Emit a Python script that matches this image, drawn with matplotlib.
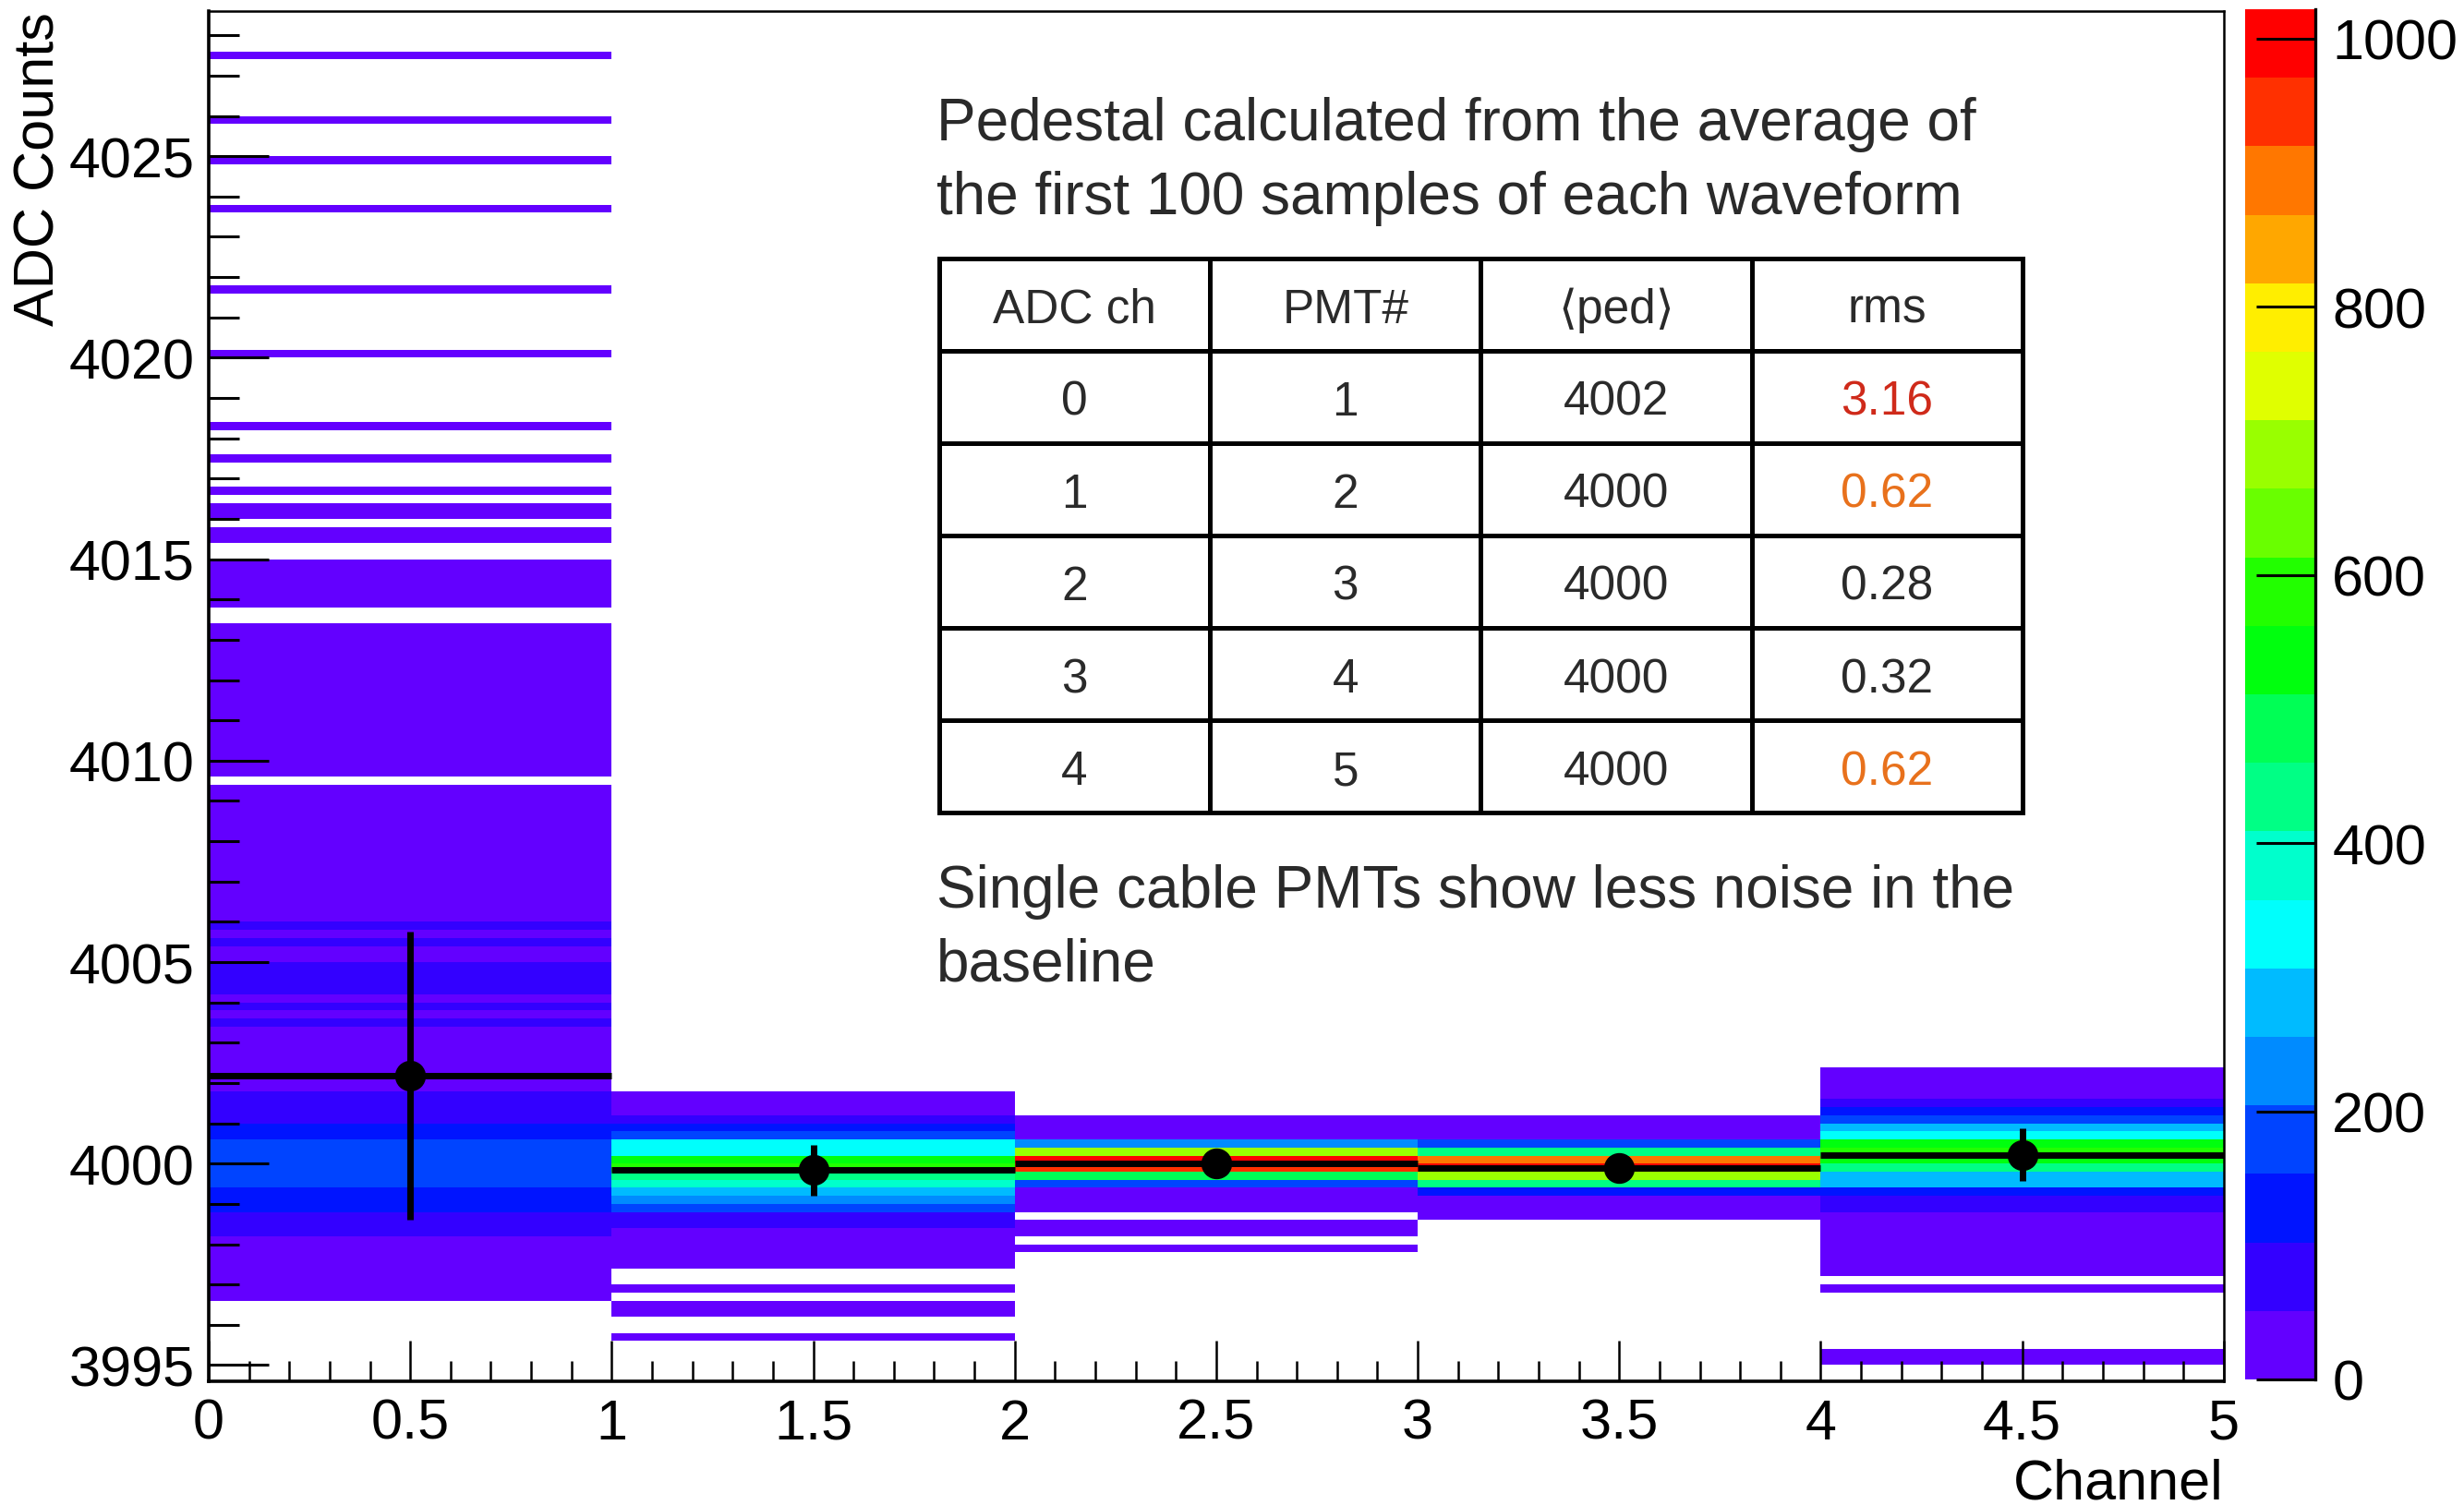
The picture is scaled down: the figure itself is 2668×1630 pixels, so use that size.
import colorsys
import numpy as np
import matplotlib
matplotlib.use('Agg')
import matplotlib.pyplot as plt
from matplotlib.colors import ListedColormap, BoundaryNorm
from matplotlib.ticker import MultipleLocator, FormatStrFormatter

plt.rcParams['font.family'] = ['Liberation Sans', 'DejaVu Sans']

# 2D histogram: x = ADC channel (bins of 1), y = pedestal (bins of 0.2 ADC counts)
y_lo, y_hi, y_bin = 3994.6, 4028.6, 0.2
channels = [0, 1, 2, 3, 4]

# filled y ranges per channel: (low edge, high edge, entries per bin)
ch0_bins = [(3996.6, 3998.2, 25), (3998.2, 3998.8, 75), (3998.8, 3999.4, 128),
            (3999.4, 4000.6, 180), (4000.6, 4001.0, 128), (4001.0, 4001.8, 75),
            (4001.8, 4003.4, 25), (4003.4, 4003.6, 75), (4003.6, 4003.8, 25),
            (4003.8, 4004.0, 75), (4004.0, 4004.2, 25), (4004.2, 4005.0, 75),
            (4005.0, 4005.4, 25), (4005.4, 4005.6, 75), (4005.6, 4005.8, 25),
            (4005.8, 4006.0, 75), (4006.0, 4009.4, 20), (4009.6, 4013.4, 12),
            (4013.8, 4015.0, 6), (4015.4, 4015.8, 3), (4016.0, 4016.4, 2),
            (4016.6, 4016.8, 2), (4017.4, 4017.6, 1), (4018.2, 4018.4, 1),
            (4020.0, 4020.2, 1), (4021.6, 4021.8, 1), (4023.6, 4023.8, 1),
            (4024.8, 4025.0, 1), (4025.8, 4026.0, 1), (4027.4, 4027.6, 1)]
ch1_bins = [(3995.6, 3995.8, 2), (3996.2, 3996.6, 3), (3996.8, 3997.0, 2),
            (3997.4, 3998.4, 25), (3998.4, 3998.8, 75), (3998.8, 3999.0, 180),
            (3999.0, 3999.2, 230), (3999.2, 3999.4, 280), (3999.4, 3999.6, 380),
            (3999.6, 3999.8, 435), (3999.8, 4000.0, 590), (4000.0, 4000.2, 535),
            (4000.2, 4000.6, 330), (4000.6, 4000.8, 180), (4000.8, 4001.0, 128),
            (4001.0, 4001.2, 75), (4001.2, 4001.8, 25)]
ch2_bins = [(3997.8, 3998.0, 2), (3998.2, 3998.6, 3), (3998.8, 3999.4, 25),
            (3999.4, 3999.6, 180), (3999.6, 3999.8, 485), (3999.8, 4000.0, 945),
            (4000.0, 4000.2, 1010), (4000.2, 4000.4, 690), (4000.4, 4000.6, 230),
            (4000.6, 4001.2, 25)]
ch3_bins = [(3998.6, 3999.2, 25), (3999.2, 3999.4, 128), (3999.4, 3999.6, 435),
            (3999.6, 3999.8, 690), (3999.8, 4000.0, 1022), (4000.0, 4000.2, 895),
            (4000.2, 4000.4, 435), (4000.4, 4000.6, 180), (4000.6, 4001.2, 25)]
ch4_bins = [(3995.0, 3995.4, 3), (3996.8, 3997.0, 2), (3997.2, 3998.8, 25),
            (3998.8, 3999.2, 75), (3999.2, 3999.4, 128), (3999.4, 3999.8, 280),
            (3999.8, 4000.0, 435), (4000.0, 4000.2, 535), (4000.2, 4000.4, 590),
            (4000.4, 4000.6, 535), (4000.6, 4000.8, 330), (4000.8, 4001.0, 280),
            (4001.0, 4001.2, 180), (4001.2, 4001.4, 128), (4001.4, 4001.6, 75),
            (4001.6, 4002.4, 25)]
z_max = 1022

# profile overlay (mean and spread per channel)
prof_x = [0.5, 1.5, 2.5, 3.5, 4.5]
prof_mean = [4002.18, 3999.84, 4000.01, 3999.89, 4000.22]
prof_err = [3.58, 0.63, 0.28, 0.32, 0.66]

# summary table
table_header = ['ADC ch', 'PMT#', '\u27e8ped\u27e9', 'rms']
adc_ch = ['0', '1', '2', '3', '4']
pmt_num = ['1', '2', '3', '4', '5']
ped_mean = ['4002', '4000', '4000', '4000', '4000']
ped_rms = ['3.16', '0.62', '0.28', '0.32', '0.62']
rms_colors = ['#cf2a1a', '#e8711c', '#2a2a2a', '#2a2a2a', '#e8711c']


def root_palette(n_levels=20, n_colors=50):
    """ROOT 'pretty' palette (hue 280 -> 0) sampled like a COLZ contour."""
    cols = []
    for k in range(n_levels):
        idx = int((k + 0.99) * n_colors / n_levels)
        hue = 280.0 - (idx + 1) * 280.0 / n_colors
        cols.append(colorsys.hls_to_rgb(hue / 360.0, 0.5, 1.0))
    return ListedColormap(cols)


y_edges = y_lo + y_bin * np.arange(int(round((y_hi - y_lo) / y_bin)) + 1)
x_edges = np.arange(len(channels) + 1)
counts = np.zeros((len(y_edges) - 1, len(channels)))
for col, runs in enumerate([ch0_bins, ch1_bins, ch2_bins, ch3_bins, ch4_bins]):
    for lo, hi, n in runs:
        i0 = int(round((lo - y_lo) / y_bin))
        i1 = int(round((hi - y_lo) / y_bin))
        counts[i0:i1, col] = n
counts = np.ma.masked_equal(counts, 0)

cmap = root_palette()
norm = BoundaryNorm(np.linspace(0, z_max, 21), cmap.N)

fig = plt.figure(figsize=(26.68, 16.31), dpi=100)
ax = fig.add_axes([0.0847, 0.0822, 0.8178, 0.9098])
cax = fig.add_axes([0.9112, 0.0834, 0.0285, 0.9099])

mesh = ax.pcolormesh(x_edges, y_edges, counts, cmap=cmap, norm=norm,
                     shading='flat', antialiased=False, linewidth=0)

ax.errorbar(prof_x, prof_mean, xerr=0.5, yerr=prof_err, fmt='o', color='black',
            markersize=23, elinewidth=5, capsize=0, zorder=5)

ax.set_xlim(0, 5)
ax.set_ylim(y_lo, y_hi)
ax.xaxis.set_major_locator(MultipleLocator(0.5))
ax.xaxis.set_minor_locator(MultipleLocator(0.1))
ax.yaxis.set_major_locator(MultipleLocator(5))
ax.yaxis.set_minor_locator(MultipleLocator(1))
ax.xaxis.set_major_formatter(FormatStrFormatter('%g'))
ax.yaxis.set_major_formatter(FormatStrFormatter('%g'))
ax.tick_params(which='both', direction='in', top=False, right=False, labelsize=44)
ax.tick_params(axis='x', which='major', length=32, width=1.8, pad=13)
ax.tick_params(axis='x', which='minor', length=16, width=1.8)
ax.tick_params(axis='y', which='major', length=47, width=2.2, pad=11)
ax.tick_params(axis='y', which='minor', length=24, width=2.2)
for side in ['left', 'bottom']:
    ax.spines[side].set_linewidth(2.6)
for side in ['top', 'right']:
    ax.spines[side].set_linewidth(1.8)

fig.text(0.0161, 0.992, 'ADC Counts', rotation=90, ha='center', va='top', fontsize=44)
fig.text(0.9025, 0.0049, 'Channel', ha='right', va='baseline', fontsize=44)

cb = fig.colorbar(mesh, cax=cax, ticks=[0, 200, 400, 600, 800, 1000])
cb.outline.set_visible(False)
cb.minorticks_off()
cax.yaxis.set_major_formatter(FormatStrFormatter('%g'))
cax.tick_params(direction='in', length=46, width=2.2, labelsize=44, pad=13)
cax.plot([1, 1], [0, 1], transform=cax.transAxes, color='black', lw=2.4, clip_on=False)

# annotation text and table
txt = dict(fontsize=46, color='#2a2a2a', ha='left', va='baseline')
fig.text(0.380, 0.907, 'Pedestal calculated from the average of', **txt)
fig.text(0.380, 0.858, 'the first 100 samples of each waveform', **txt)
fig.text(0.380, 0.3973, 'Single cable PMTs show less noise in the', **txt)
fig.text(0.380, 0.3483, 'baseline', **txt)

rows = [list(r) for r in zip(adc_ch, pmt_num, ped_mean, ped_rms)]
tab = ax.table(cellText=rows, colLabels=table_header, cellLoc='center',
               bbox=[0.3625, 0.4149, 0.5376, 0.4048], zorder=6)
tab.auto_set_font_size(False)
for (r, c), cell in tab.get_celld().items():
    cell.set_linewidth(3.6)
    cell.set_edgecolor('black')
    cell.set_facecolor('white')
    t = cell.get_text()
    t.set_fontsize(37)
    t.set_color('#2a2a2a')
    t.set_fontfamily(['Liberation Sans', 'DejaVu Sans'])
    t.set_va('center_baseline')
    if r > 0 and c == 3:
        t.set_color(rms_colors[r - 1])

fig.savefig('out.png', dpi=100)
